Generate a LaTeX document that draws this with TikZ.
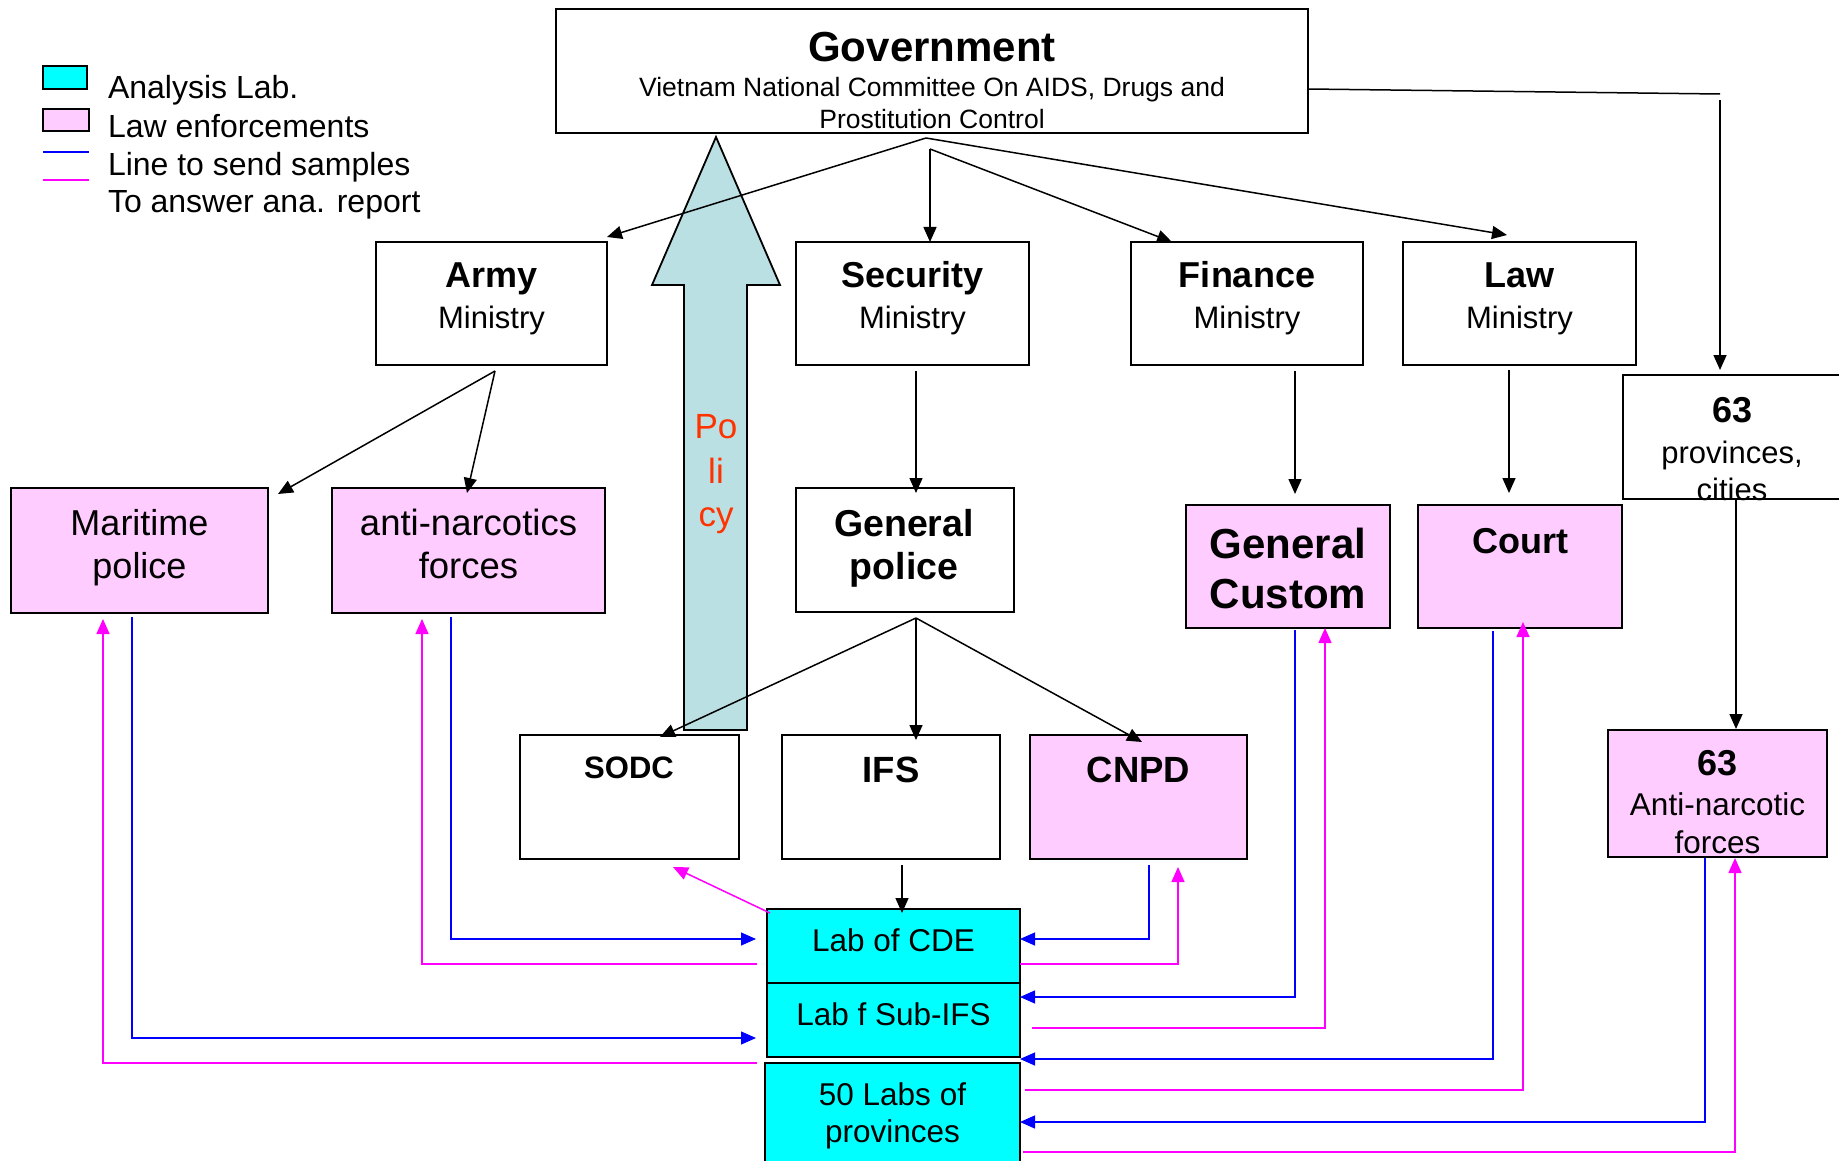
\documentclass[tikz,border=0pt]{standalone}
\usepackage{fontspec}
\setmainfont{Liberation Sans}
\usetikzlibrary{arrows.meta}
\definecolor{pinkf}{HTML}{FFCCFF}
\definecolor{cyanf}{HTML}{00FFFF}
\definecolor{polf}{HTML}{BBE0E3}
\definecolor{polt}{HTML}{FF3300}
\definecolor{blu}{HTML}{0000FF}
\definecolor{mag}{HTML}{FF00FF}
\newcommand{\fsz}[1]{\fontsize{#1}{#1}\selectfont}
\begin{document}
\begin{tikzpicture}[x=1pt,y=-1pt,
  box/.style={draw=black, line width=1.8pt, inner sep=0pt, outer sep=0pt, fill=white},
  lawbox/.style={box, fill=pinkf},
  labbox/.style={box, fill=cyanf},
  txt/.style={anchor=base, inner sep=0pt, outer sep=0pt},
  ltxt/.style={anchor=base west, inner sep=0pt, outer sep=0pt, font=\fsz{32}},
  arr/.style={draw=black, line width=1.5pt, -{Triangle[length=15pt,width=13pt]}},
  bluarr/.style={draw=blu, line width=1.3pt, -{Triangle[length=15pt,width=13pt]}},
  magarr/.style={draw=mag, line width=1.5pt, -{Triangle[length=15pt,width=13pt]}},
  magline/.style={draw=mag, line width=1.5pt}
]
\useasboundingbox (0,0) rectangle (1839,1161);
\clip (0,0) rectangle (1839,1161);

% legend
\node[labbox, minimum width=44pt, minimum height=23pt] (legLab) at (65,77.5) {};
\node[lawbox, minimum width=46pt, minimum height=22pt] (legLaw) at (66,120) {};
\coordinate (legB1) at (43,152); \coordinate (legB2) at (89,152);
\coordinate (legM1) at (43,180); \coordinate (legM2) at (89,180);
\draw[draw=blu, line width=2pt] (legB1) -- (legB2);
\draw[draw=mag, line width=2pt] (legM1) -- (legM2);
\node[ltxt] (legT1) at (108,99) {Analysis Lab.};
\node[ltxt] (legT2) at (108,138) {Law enforcements};
\node[ltxt] (legT3) at (108,176) {Line to send samples};
\node[ltxt] (legT4) at (108,213) {To answer ana. report};

% policy arrow
\draw[fill=polf, line width=1.8pt, line join=miter]
  (684,730) -- (684,285) -- (652,285) -- (716,137) -- (780,285) -- (747,285) -- (747,730) -- cycle;

% boxes
\node[box, minimum width=752pt, minimum height=124pt] (gov) at (932,71) {};
\node[box, minimum width=231pt, minimum height=123pt] (army) at (491.5,303.5) {};
\node[box, minimum width=233pt, minimum height=123pt] (sec) at (912.5,303.5) {};
\node[box, minimum width=232pt, minimum height=123pt] (fin) at (1247,303.5) {};
\node[box, minimum width=233pt, minimum height=123pt] (law) at (1519.5,303.5) {};
\node[box, minimum width=232pt, minimum height=124pt] (prov) at (1739,437) {};
\node[lawbox, minimum width=257pt, minimum height=125pt] (mar) at (139.5,550.5) {};
\node[lawbox, minimum width=273pt, minimum height=125pt] (anti) at (468.5,550.5) {};
\node[box, minimum width=218pt, minimum height=124pt] (gp) at (905,550) {};
\node[lawbox, minimum width=204pt, minimum height=123pt] (cust) at (1288,566.5) {};
\node[lawbox, minimum width=204pt, minimum height=123pt] (court) at (1520,566.5) {};
\node[lawbox, minimum width=219pt, minimum height=127pt] (anti63) at (1717.5,793.5) {};
\node[box, minimum width=219pt, minimum height=124pt] (sodc) at (629.5,797) {};
\node[box, minimum width=218pt, minimum height=124pt] (ifs) at (891,797) {};
\node[lawbox, minimum width=217pt, minimum height=124pt] (cnpd) at (1138.5,797) {};
\node[labbox, minimum width=253pt, minimum height=74pt] (cde) at (893.5,946) {};
\node[labbox, minimum width=253pt, minimum height=74pt] (sub) at (893.5,1020) {};
\node[labbox, minimum width=255pt, minimum height=112pt] (fifty) at (892.5,1119) {};

% black connectors
\draw[arr] ([shift={(-6,5)}]gov.south) -- ([shift={(0,-5)}]army.north east);
\draw[arr] ([shift={(-6,5)}]gov.south) -- ([shift={(-12.5,-7)}]law.north);
\draw[arr] ([shift={(-2,16)}]gov.south) -- ([shift={(17.5,0)}]sec.north);
\draw[arr] ([shift={(-2,16)}]gov.south) -- ([shift={(-75,0)}]fin.north);
\coordinate (govR) at (1720,94);
\coordinate (provIn) at (1720,100);
\draw[draw=black, line width=1.5pt] ([shift={(0,18)}]gov.east) -- (govR);
\draw[arr] (provIn) -- ([shift={(-19,-5)}]prov.north);
\draw[arr] ([shift={(3.5,6)}]army.south) -- ([shift={(10,6)}]mar.north east);
\draw[arr] ([shift={(3.5,6)}]army.south) -- ([shift={(-1.5,5)}]anti.north);
\draw[arr] ([shift={(3.5,6)}]sec.south) -- ([shift={(11,5)}]gp.north);
\draw[arr] ([shift={(48,6)}]fin.south) -- ([shift={(7,-11)}]cust.north);
\draw[arr] ([shift={(-10.5,5)}]law.south) -- ([shift={(-11,-12)}]court.north);
\draw[arr] ([shift={(-3,0)}]prov.south) -- ([shift={(18.5,-1)}]anti63.north);
\draw[arr] ([shift={(11,6)}]gp.south) -- ([shift={(30.5,2)}]sodc.north);
\draw[arr] ([shift={(11,6)}]gp.south) -- ([shift={(25,5)}]ifs.north);
\draw[arr] ([shift={(11,6)}]gp.south) -- ([shift={(3.5,7)}]cnpd.north);
\draw[arr] ([shift={(11,6)}]ifs.south) -- ([shift={(8.5,4)}]cde.north);

% coloured connectors
\draw[magarr] ([shift={(3,4)}]cde.north west) -- ([shift={(43.5,8)}]sodc.south);
\draw[magarr] ([shift={(-8,0)}]fifty.north west) -| ([shift={(-36.5,6)}]mar.south);
\draw[bluarr] ([shift={(-7.5,4)}]mar.south) |- ([shift={(-11,18)}]sub.west);
\draw[magarr] ([shift={(-10,18)}]cde.west) -| ([shift={(-46.5,6)}]anti.south);
\draw[bluarr] ([shift={(-17.5,4)}]anti.south) |- ([shift={(-11,-7)}]cde.west);
\draw[bluarr] ([shift={(10.5,6)}]cnpd.south) |- ([shift={(0,-7)}]cde.east);
\draw[magarr] ([shift={(0,18)}]cde.east) -| ([shift={(39.5,8)}]cnpd.south);
\draw[bluarr] ([shift={(7,2)}]cust.south) |- ([shift={(0,-23)}]sub.east);
\draw[magarr] ([shift={(12,8)}]sub.east) -| ([shift={(37,0)}]cust.south);
\draw[bluarr] ([shift={(-27,3)}]court.south) |- ([shift={(0,2)}]sub.south east);
\draw[magarr] ([shift={(5,-29)}]fifty.east) -| ([shift={(3,-6)}]court.south);
\draw[bluarr] ([shift={(-12.5,1)}]anti63.south) |- ([shift={(0,3)}]fifty.east);
\draw[magarr] ([shift={(3,33)}]fifty.east) -| ([shift={(17.5,1)}]anti63.south);

% texts
\node[txt, font=\bfseries\fsz{42}] (govT1) at (932,62) {Government};
\node[txt, font=\fsz{26.5}] (govT2) at (932,97) {Vietnam National Committee On AIDS, Drugs and};
\node[txt, font=\fsz{26.5}] (govT3) at (932,129) {Prostitution Control};

\node[txt, font=\bfseries\fsz{36}] (armyT1) at (491.5,287) {Army};
\node[txt, font=\fsz{31}] (armyT2) at (491.5,328) {Ministry};
\node[txt, font=\bfseries\fsz{36}] (secT1) at (912.5,287) {Security};
\node[txt, font=\fsz{31}] (secT2) at (912.5,328) {Ministry};
\node[txt, font=\bfseries\fsz{36}] (finT1) at (1247,287) {Finance};
\node[txt, font=\fsz{31}] (finT2) at (1247,328) {Ministry};
\node[txt, font=\bfseries\fsz{36}] (lawT1) at (1519.5,287) {Law};
\node[txt, font=\fsz{31}] (lawT2) at (1519.5,328) {Ministry};

\node[txt, font=\bfseries\fsz{36}] (provT1) at (1732,422) {63};
\node[txt, font=\fsz{31}] (provT2) at (1732,463) {provinces,};
\node[txt, font=\fsz{31}] (provT3) at (1732,500) {cities};

\node[txt, font=\fsz{36}] (marT1) at (139.5,535) {Maritime};
\node[txt, font=\fsz{36}] (marT2) at (139.5,578) {police};
\node[txt, font=\fsz{36.5}] (antiT1) at (468.5,535) {anti-narcotics};
\node[txt, font=\fsz{36.5}] (antiT2) at (468.5,578) {forces};

\node[txt, font=\bfseries\fsz{37.5}] (gpT1) at (904,536) {General};
\node[txt, font=\bfseries\fsz{37.5}] (gpT2) at (904,579) {police};
\node[txt, font=\bfseries\fsz{42}] (custT1) at (1288,558) {General};
\node[txt, font=\bfseries\fsz{42}] (custT2) at (1288,608) {Custom};
\node[txt, font=\bfseries\fsz{36}] (courtT) at (1520,553) {Court};

\node[txt, font=\bfseries\fsz{31}] (sodcT) at (629,778) {SODC};
\node[txt, font=\bfseries\fsz{36.5}] (ifsT) at (891,782) {IFS};
\node[txt, font=\bfseries\fsz{36.5}] (cnpdT) at (1138.5,782) {CNPD};

\node[txt, font=\bfseries\fsz{36}] (a63T1) at (1717.5,775) {63};
\node[txt, font=\fsz{31.5}] (a63T2) at (1717.5,815) {Anti-narcotic};
\node[txt, font=\fsz{31.5}] (a63T3) at (1717.5,853) {forces};

\node[txt, font=\fsz{31.5}] (cdeT) at (893.5,951) {Lab of CDE};
\node[txt, font=\fsz{31.5}] (subT) at (893.5,1025) {Lab f Sub-IFS};
\node[txt, font=\fsz{31.5}] (fiftyT1) at (892.5,1105) {50 Labs of};
\node[txt, font=\fsz{31.5}] (fiftyT2) at (892.5,1142) {provinces};

\node[txt, font=\fsz{35}, text=polt] (polT1) at (716,438) {Po};
\node[txt, font=\fsz{35}, text=polt] (polT2) at (716,483) {li};
\node[txt, font=\fsz{35}, text=polt] (polT3) at (716,526) {cy};
\end{tikzpicture}
\end{document}
